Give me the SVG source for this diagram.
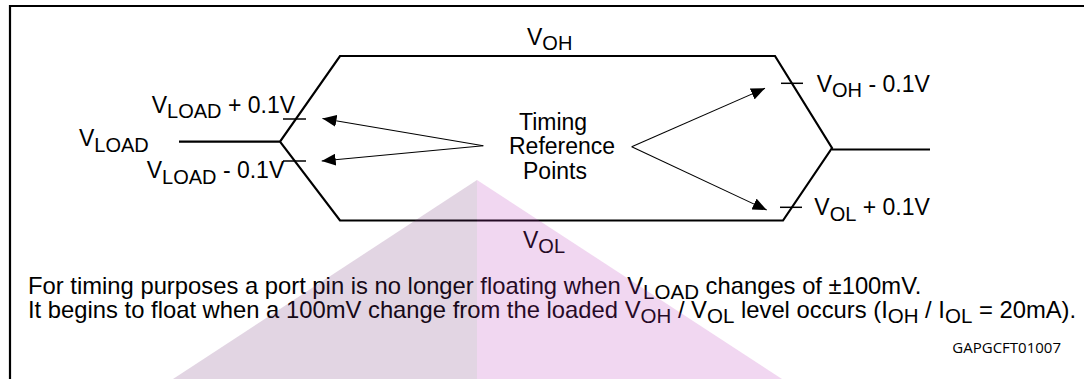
<svg xmlns="http://www.w3.org/2000/svg" width="1084" height="379" viewBox="0 0 1084 379">
<defs>
<style>
text{font-family:"Liberation Sans",Arial,sans-serif;fill:#000}
.lbl{font-size:23px}
.sub{font-size:20px}
.note{font-size:23.8px}
.nsub{font-size:20.5px}
.code{font-family:"Open Sans","DejaVu Sans",sans-serif;font-size:15px}
.wave{fill:none;stroke:#000;stroke-width:2.2;stroke-linejoin:miter}
.tick{stroke:#000;stroke-width:1.5}
.arr{fill:none;stroke:#000;stroke-width:1.1}
</style>
<marker id="ah" viewBox="0 0 14 12" refX="14" refY="6" markerWidth="14" markerHeight="12" markerUnits="userSpaceOnUse" orient="auto">
<path d="M0,0 L14,6 L0,12 z" fill="#000"/>
</marker>
</defs>
<rect width="1084" height="379" fill="#fff"/>
<g id="frame"><path d="M10,379 L10,6 L1084,6" fill="none" stroke="#000" stroke-width="2.2"/></g>
<g id="connectors">
<path class="wave" d="M179,141.7 L280,141.7 L340,56 L775,56 L832,148 L783,220.5 L340,220.5 L280,141.7"/>
<path class="wave" d="M832,149.5 L930,149.5"/>
<line class="tick" x1="283" y1="119" x2="306" y2="119"/>
<line class="tick" x1="283" y1="161" x2="306" y2="161"/>
<line class="tick" x1="781" y1="83.3" x2="803" y2="83.3"/>
<line class="tick" x1="780" y1="207.3" x2="802" y2="207.3"/>
<line class="arr" x1="483.3" y1="145.7" x2="322.5" y2="118.5" marker-end="url(#ah)"/>
<line class="arr" x1="483.3" y1="145.7" x2="321.7" y2="161" marker-end="url(#ah)"/>
<line class="arr" x1="631.7" y1="146.7" x2="765" y2="88.3" marker-end="url(#ah)"/>
<line class="arr" x1="631.7" y1="146.7" x2="766.7" y2="210" marker-end="url(#ah)"/>
</g>
<g id="label-voh"><text class="lbl" x="527" y="45">V<tspan class="sub" dy="5">OH</tspan></text></g>
<g id="label-vol"><text class="lbl" x="523" y="247.5">V<tspan class="sub" dy="5">OL</tspan></text></g>
<g id="label-vload"><text class="lbl" x="79" y="145.7">V<tspan class="sub" dy="5.8">LOAD</tspan></text></g>
<g id="label-vload-plus"><text class="lbl" x="151.7" y="112.7">V<tspan class="sub" dy="5.6">LOAD</tspan><tspan dy="-5.6"> + 0.1V</tspan></text></g>
<g id="label-vload-minus"><text class="lbl" x="146.7" y="178.3">V<tspan class="sub" dy="5.7">LOAD</tspan><tspan dy="-5.7"> - 0.1V</tspan></text></g>
<g id="label-voh-minus"><text class="lbl" x="816.7" y="91.7">V<tspan class="sub" dy="5">OH</tspan><tspan dy="-5"> - 0.1V</tspan></text></g>
<g id="label-vol-plus"><text class="lbl" x="814.3" y="215">V<tspan class="sub" dy="5.7">OL</tspan><tspan dy="-5.7"> + 0.1V</tspan></text></g>
<g id="label-timing">
<text class="lbl" x="519" y="130">Timing</text>
<text class="lbl" x="509" y="154">Reference</text>
<text class="lbl" x="523" y="179">Points</text>
</g>
<g id="note">
<text class="note" x="28" y="294">For timing purposes a port pin is no longer floating when V<tspan class="nsub" dy="4.5">LOAD</tspan><tspan dy="-4.5"> changes of ±100mV.</tspan></text>
<text class="note" x="28" y="318.3">It begins to float when a 100mV change from the loaded V<tspan class="nsub" dy="4.5">OH</tspan><tspan dy="-4.5"> / V</tspan><tspan class="nsub" dy="4.5">OL</tspan><tspan dy="-4.5"> level occurs (I</tspan><tspan class="nsub" dy="4.5">OH</tspan><tspan dy="-4.5"> / I</tspan><tspan class="nsub" dy="4.5">OL</tspan><tspan dy="-4.5"> = 20mA).</tspan></text>
</g>
<g id="code"><text class="code" x="1061" y="353" text-anchor="end">GAPGCFT01007</text></g>
<g id="watermark">
<polygon points="477,180 173,379 477,379" fill="rgb(110,45,115)" fill-opacity="0.2"/>
<polygon points="477,180 782,379 477,379" fill="rgb(185,55,185)" fill-opacity="0.2"/>
</g>
</svg>
